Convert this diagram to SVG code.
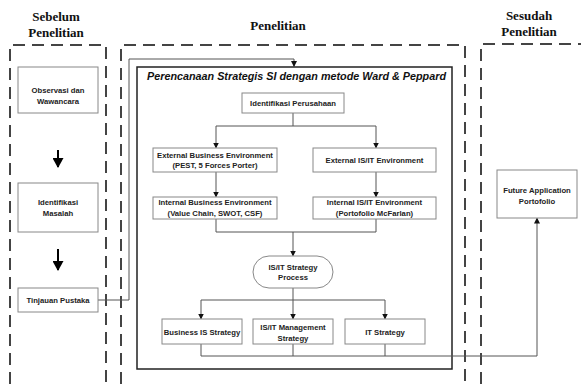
<svg xmlns="http://www.w3.org/2000/svg" width="581" height="384" viewBox="0 0 581 384">
<defs>
<marker id="ah" markerUnits="userSpaceOnUse" markerWidth="6" markerHeight="6" refX="5" refY="3" orient="auto">
<path d="M0,0 L6,3 L0,6 Z" fill="#111"/>
</marker>
<marker id="big" markerUnits="userSpaceOnUse" markerWidth="10" markerHeight="11" refX="9" refY="5.5" orient="auto">
<path d="M0,0 L10,5.5 L0,11 Z" fill="#000"/>
</marker>
<style>
.hd{font-family:"Liberation Serif","Times New Roman",serif;font-weight:bold;font-size:13px;fill:#111;text-anchor:middle}
.dash{fill:none;stroke:#444;stroke-width:2;stroke-dasharray:12 7}
.box{fill:#fff;stroke:#888;stroke-width:1}
.t{font-family:"Liberation Sans",Arial,sans-serif;font-weight:bold;font-size:7.7px;fill:#222;text-anchor:middle}
.ttl{font-family:"Liberation Sans",Arial,sans-serif;font-weight:bold;font-style:italic;font-size:10.8px;fill:#111}
.ln{fill:none;stroke:#555;stroke-width:1}
</style>
</defs>
<g id="headers">
<text class="hd" x="56" y="21">Sebelum</text>
<text class="hd" x="56" y="37">Penelitian</text>
<text class="hd" x="278" y="30">Penelitian</text>
<text class="hd" x="529" y="20">Sesudah</text>
<text class="hd" x="529" y="36">Penelitian</text>
</g>
<g id="phases">
<path class="dash" d="M10,384 V45 H106 V384"/>
<path class="dash" d="M121,384 V45 H465 V384"/>
<path class="dash" d="M481,384 V44 H581"/>
</g>
<g id="ward-peppard">
<rect x="137" y="67" width="315" height="302" fill="none" stroke="#222" stroke-width="1.5"/>
<text class="ttl" x="147" y="80" textLength="299" lengthAdjust="spacingAndGlyphs">Perencanaan Strategis SI dengan metode Ward &amp; Peppard</text>
</g>
<g id="connectors">
<line x1="58" y1="150" x2="58" y2="167" stroke="#000" stroke-width="2" marker-end="url(#big)"/>
<line x1="58" y1="249" x2="58" y2="270" stroke="#000" stroke-width="2" marker-end="url(#big)"/>
<path class="ln" d="M98,300 H129 V59 H294 V66" marker-end="url(#ah)"/>
<path class="ln" d="M293,113 V126 M216,126 H376"/>
<path class="ln" d="M216,126 V147.5" marker-end="url(#ah)"/>
<path class="ln" d="M376,126 V147.5" marker-end="url(#ah)"/>
<path class="ln" d="M216,172 V196.5" marker-end="url(#ah)"/>
<path class="ln" d="M376,172 V196.5" marker-end="url(#ah)"/>
<path class="ln" d="M216,219 V232 H376 V219"/>
<path class="ln" d="M293,232 V255.5" marker-end="url(#ah)"/>
<path class="ln" d="M293,288 V300 M201,300 H385"/>
<path class="ln" d="M201,300 V318.5" marker-end="url(#ah)"/>
<path class="ln" d="M293,300 V318.5" marker-end="url(#ah)"/>
<path class="ln" d="M385,300 V318.5" marker-end="url(#ah)"/>
<path class="ln" d="M293,344 V356 M385,344 V356"/>
<path class="ln" d="M201,344 V356 H537 V218.5" marker-end="url(#ah)"/>
</g>
<g id="observasi">
<rect class="box" x="18" y="67" width="80" height="46"/>
<text class="t" x="58" y="92.7">Observasi dan</text>
<text class="t" x="58" y="103.7">Wawancara</text>
</g>
<g id="identifikasi-masalah">
<rect class="box" x="18" y="183" width="80" height="49"/>
<text class="t" x="58" y="204.7">Identifikasi</text>
<text class="t" x="58" y="215.7">Masalah</text>
</g>
<g id="tinjauan">
<rect class="box" x="18" y="288" width="80" height="24"/>
<text class="t" x="58" y="302.7">Tinjauan Pustaka</text>
</g>
<g id="identifikasi-perusahaan">
<rect class="box" x="242" y="93" width="102" height="20"/>
<text class="t" x="293" y="105.7">Identifikasi Perusahaan</text>
</g>
<g id="ext-business">
<rect class="box" x="153" y="148" width="124" height="24"/>
<text class="t" x="215" y="157.7">External Business Environment</text>
<text class="t" x="215" y="167.7">(PEST, 5 Forces Porter)</text>
</g>
<g id="ext-isit">
<rect class="box" x="313" y="148" width="123" height="24"/>
<text class="t" x="374.5" y="162.7">External IS/IT Environment</text>
</g>
<g id="int-business">
<rect class="box" x="153" y="197" width="124" height="22"/>
<text class="t" x="215" y="204.7">Internal Business Environment</text>
<text class="t" x="215" y="215.7">(Value Chain, SWOT, CSF)</text>
</g>
<g id="int-isit">
<rect class="box" x="313" y="197" width="123" height="22"/>
<text class="t" x="374.5" y="204.7">Internal IS/IT Environment</text>
<text class="t" x="374.5" y="215.7">(Portofolio McFarlan)</text>
</g>
<g id="strategy-process">
<rect class="box" x="253" y="256" width="80" height="32" rx="16" ry="16" stroke="#555"/>
<text class="t" x="293" y="269.7">IS/IT Strategy</text>
<text class="t" x="293" y="279.7">Process</text>
</g>
<g id="business-is">
<rect class="box" x="162" y="319" width="80" height="25"/>
<text class="t" x="202" y="334.7">Business IS Strategy</text>
</g>
<g id="isit-management">
<rect class="box" x="253" y="319" width="80" height="25"/>
<text class="t" x="293" y="329.7">IS/IT Management</text>
<text class="t" x="293" y="340.7">Strategy</text>
</g>
<g id="it-strategy">
<rect class="box" x="345" y="319" width="80" height="25"/>
<text class="t" x="385" y="334.7">IT Strategy</text>
</g>
<g id="future-portfolio">
<rect class="box" x="497" y="170" width="80" height="48"/>
<text class="t" x="537" y="192.7">Future Application</text>
<text class="t" x="537" y="203.7">Portofolio</text>
</g>
</svg>
